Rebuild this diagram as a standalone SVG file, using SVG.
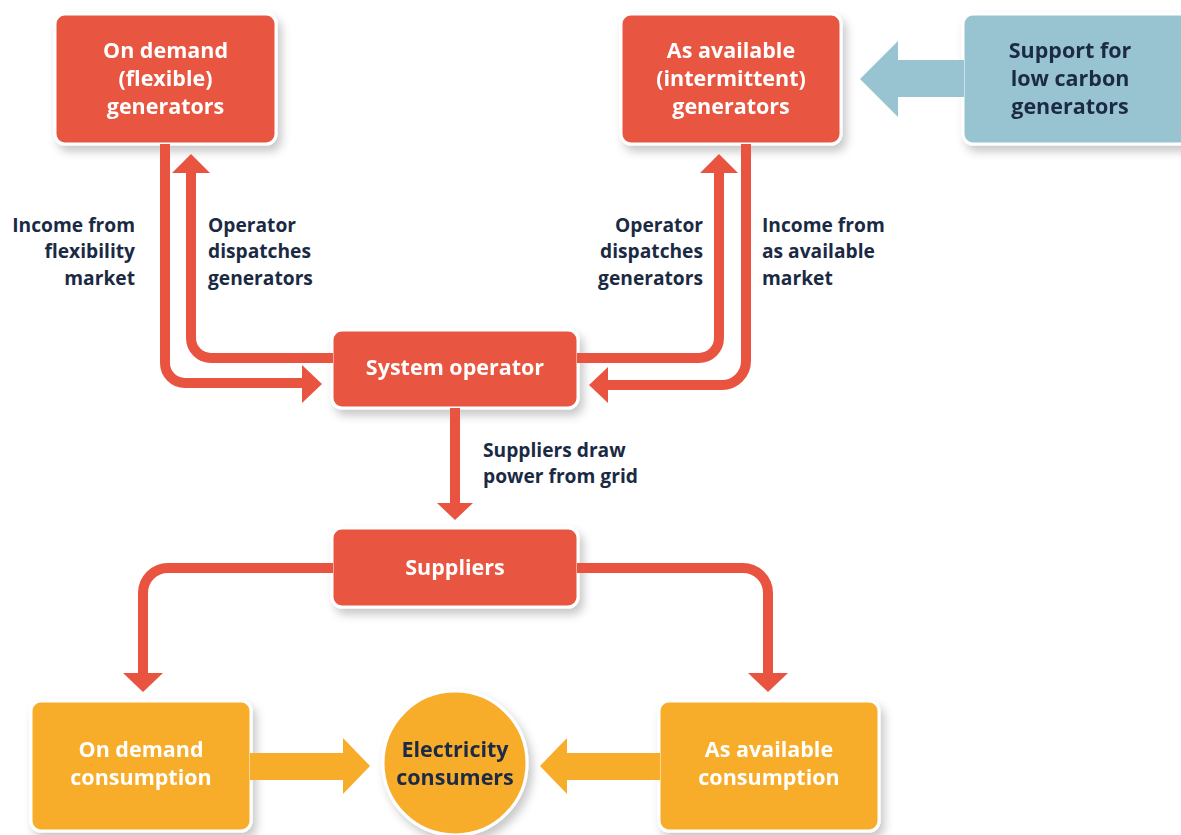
<svg xmlns="http://www.w3.org/2000/svg" width="1181" height="835" viewBox="0 0 1181 835">
  <defs>
    <filter id="sh" x="-20%" y="-20%" width="150%" height="160%">
      <feDropShadow dx="4" dy="6" stdDeviation="5" flood-color="#000" flood-opacity="0.22"/>
    </filter>
  </defs>
  <style>
    .red { fill: #e8543f; stroke: #fff; stroke-width: 3; }
    .org { fill: #f7ac2a; stroke: #fff; stroke-width: 3; }
    .blu { fill: #97c4d0; stroke: #fff; stroke-width: 3; }
    .node { filter: url(#sh); }
    .bt { font-family: "Open Sans", "Liberation Sans", sans-serif; font-weight: 700; font-size: 21.5px; fill: #fff; text-anchor: middle; }
    .dt { fill: #1b2a44; }
    .lb { font-family: "Open Sans", "Liberation Sans", sans-serif; font-weight: 700; font-size: 19.2px; fill: #1b2a44; }
    .end { text-anchor: end; }
    .ln { fill: none; stroke: #e8543f; stroke-width: 10; }
    .ah { fill: #e8543f; }
  </style>

  <g id="node-on-demand-generators" class="node">
    <rect class="red" x="55" y="14" width="221" height="130" rx="10"/>
    <text class="bt" x="165.5" y="58">On demand</text>
    <text class="bt" x="165.5" y="86">(flexible)</text>
    <text class="bt" x="165.5" y="114">generators</text>
  </g>

  <g id="node-as-available-generators" class="node">
    <rect class="red" x="621" y="14" width="220" height="130" rx="10"/>
    <text class="bt" x="731" y="58">As available</text>
    <text class="bt" x="731" y="86">(intermittent)</text>
    <text class="bt" x="731" y="114">generators</text>
  </g>

  <g id="node-support" class="node">
    <rect class="blu" x="963" y="14" width="230" height="130" rx="10"/>
    <text class="bt dt" x="1070" y="58">Support for</text>
    <text class="bt dt" x="1070" y="86">low carbon</text>
    <text class="bt dt" x="1070" y="114">generators</text>
  </g>

  <g id="node-system-operator" class="node">
    <rect class="red" x="332" y="330" width="246" height="78" rx="10"/>
    <text class="bt" x="455" y="375">System operator</text>
  </g>

  <g id="node-suppliers" class="node">
    <rect class="red" x="332" y="528" width="246" height="79" rx="10"/>
    <text class="bt" x="455" y="575">Suppliers</text>
  </g>

  <g id="node-on-demand-consumption" class="node">
    <rect class="org" x="31" y="701" width="220" height="130" rx="10"/>
    <text class="bt" x="141" y="757">On demand</text>
    <text class="bt" x="141" y="785">consumption</text>
  </g>

  <g id="node-electricity-consumers" class="node">
    <circle class="org" cx="455" cy="763" r="72" stroke-width="4"/>
    <text class="bt dt" x="455" y="757">Electricity</text>
    <text class="bt dt" x="455" y="785">consumers</text>
  </g>

  <g id="node-as-available-consumption" class="node">
    <rect class="org" x="659" y="701" width="220" height="130" rx="10"/>
    <text class="bt" x="769" y="757">As available</text>
    <text class="bt" x="769" y="785">consumption</text>
  </g>

  <g id="connectors">
    <path class="ln" d="M165,144 V363 A20,20 0 0 0 185,383 H304"/>
    <polygon class="ah" points="302,365 322,384 302,403"/>
    <path class="ln" d="M333,358 H211 A20,20 0 0 1 191,338 V171"/>
    <polygon class="ah" points="172,173 191,154 210,173"/>
    <path class="ln" d="M577,358 H699 A20,20 0 0 0 719,338 V171"/>
    <polygon class="ah" points="700,173 719,154 738,173"/>
    <path class="ln" d="M746,144 V361 A24,24 0 0 1 722,385 H606"/>
    <polygon class="ah" points="608,367 589,385 608,403"/>
    <path class="ln" d="M455,408 V505"/>
    <polygon class="ah" points="437,503 455,520 473,503"/>
    <path class="ln" d="M333,568 H168 A25,25 0 0 0 143,593 V675"/>
    <polygon class="ah" points="123,673 143,692 163,673"/>
    <path class="ln" d="M577,568 H743 A25,25 0 0 1 768,593 V675"/>
    <polygon class="ah" points="748,673 768,692 788,673"/>
    <polygon fill="#97c4d0" points="964,60 898,60 898,41 860,79 898,117 898,97 964,97"/>
    <polygon fill="#f7ac2a" points="250,753 343,753 343,738 370,766 343,794 343,780 250,780"/>
    <polygon fill="#f7ac2a" points="660,753 567,753 567,738 540,766 567,794 567,780 660,780"/>
  </g>

  <g id="labels">
    <text class="lb end" x="135" y="232">Income from</text>
    <text class="lb end" x="135" y="258">flexibility</text>
    <text class="lb end" x="135" y="285">market</text>
    <text class="lb" x="208" y="232">Operator</text>
    <text class="lb" x="208" y="258">dispatches</text>
    <text class="lb" x="208" y="285">generators</text>
    <text class="lb end" x="703" y="232">Operator</text>
    <text class="lb end" x="703" y="258">dispatches</text>
    <text class="lb end" x="703" y="285">generators</text>
    <text class="lb" x="762" y="232">Income from</text>
    <text class="lb" x="762" y="258">as available</text>
    <text class="lb" x="762" y="285">market</text>
    <text class="lb" x="483" y="457">Suppliers draw</text>
    <text class="lb" x="483" y="483">power from grid</text>
  </g>
</svg>
